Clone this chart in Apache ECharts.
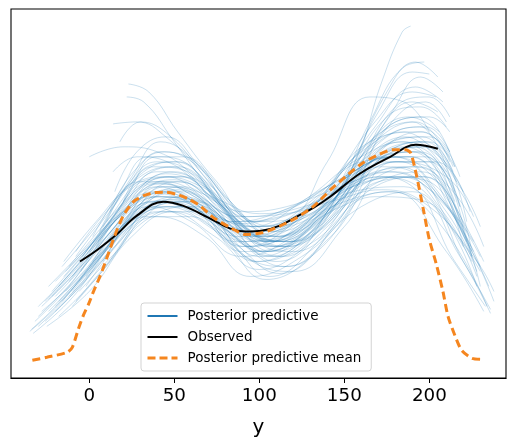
<!DOCTYPE html>
<html>
<head>
<meta charset="utf-8">
<title>ppc</title>
<script src="https://cdn.jsdelivr.net/npm/echarts@6/dist/echarts.min.js"></script>
<style>
	html, body { margin: 0; padding: 0; background: #fff; }
	#showView { width: 515px; height: 443px; }
</style>
</head>
<body>
<div id="showView"></div>
<script>
// tick labels on the x axis
var xTicks = [0, 50, 100, 150, 200];

// observed density
var obsX = [-5.5, 5, 16, 28, 43.5, 55, 70, 83, 92, 102, 112, 122, 132, 142, 159, 177, 192, 205];
var obsY = [1.00, 1.12, 1.27, 1.46, 1.60, 1.56, 1.44, 1.33, 1.30, 1.31, 1.36, 1.45, 1.54, 1.655, 1.88, 2.05, 2.17, 2.13];

// posterior predictive mean
var meanX = [-33.5, -25, -13, -10, -6.5, -3.5, -0.5, 2.5, 6.5, 10, 15, 20, 26, 32, 38, 45, 52, 58, 65, 73, 83, 92, 102, 112, 122, 132, 142, 152, 161, 170, 178, 186, 189, 192.5, 196.5, 200, 204, 208, 211, 215, 219, 225, 231];
var meanY = [0.01, 0.04, 0.09, 0.14, 0.32, 0.46, 0.57, 0.70, 0.86, 1.02, 1.26, 1.46, 1.60, 1.66, 1.69, 1.695, 1.67, 1.63, 1.56, 1.44, 1.34, 1.27, 1.29, 1.355, 1.44, 1.555, 1.72, 1.87, 1.99, 2.07, 2.12, 2.12, 2.09, 1.86, 1.52, 1.22, 0.98, 0.70, 0.45, 0.26, 0.11, 0.03, 0.02];

// posterior predictive draws, [y, density]
var ppLines = [
	[[-35,0.30],[-15,0.62],[10,1.15],[35,1.55],[60,1.40],[90,1.05],[120,1.25],[155,1.70],[185,1.75],[215,1.00],[233,0.55]],
	[[-30,0.45],[-10,0.80],[15,1.35],[40,1.75],[65,1.55],[92,1.15],[125,1.45],[160,2.00],[190,2.05],[220,1.15]],
	[[-28,0.55],[-5,0.95],[20,1.50],[45,1.85],[70,1.60],[95,1.25],[130,1.55],[165,2.20],[195,2.30],[212,2.05]],
	[[-25,0.35],[0,0.70],[25,1.25],[50,1.50],[75,1.30],[100,1.00],[135,1.30],[170,1.85],[200,1.65],[228,0.75]],
	[[-22,0.65],[0,1.05],[22,1.55],[42,1.78],[65,1.62],[88,1.38],[115,1.50],[150,1.85],[178,2.05],[205,1.70],[225,1.05]],
	[[-20,0.50],[5,0.95],[30,1.55],[55,1.75],[80,1.45],[105,1.20],[140,1.55],[175,2.45],[195,2.55],[210,2.35]],
	[[-18,0.75],[5,1.20],[28,1.60],[48,1.70],[70,1.50],[95,1.35],[125,1.60],[160,2.05],[185,2.20],[210,1.75]],
	[[-15,0.85],[8,1.30],[30,1.75],[50,1.90],[75,1.60],[100,1.30],[130,1.55],[165,2.00],[190,2.10],[218,1.40]],
	[[-12,0.95],[10,1.40],[32,1.85],[52,1.95],[78,1.55],[102,1.10],[135,1.35],[168,1.90],[195,1.95],[222,1.20]],
	[[-10,0.70],[12,1.15],[35,1.60],[58,1.62],[85,1.30],[108,1.15],[138,1.50],[170,2.30],[190,2.60],[205,2.50]],
	[[-8,1.05],[12,1.50],[32,1.90],[50,2.00],[72,1.75],[95,1.40],[122,1.50],[155,1.80],[180,1.90],[208,1.50],[228,0.85]],
	[[-5,0.90],[15,1.35],[38,1.78],[60,1.70],[85,1.25],[110,1.05],[140,1.40],[172,2.05],[198,2.05],[220,1.35]],
	[[0,1.10],[18,1.55],[38,1.95],[58,1.90],[82,1.45],[105,1.20],[135,1.50],[168,2.20],[192,2.40],[212,2.00]],
	[[5,1.20],[22,1.65],[40,2.05],[60,1.95],[85,1.40],[108,1.10],[140,1.50],[175,2.70],[192,3.00],[205,2.85]],
	[[10,1.40],[25,1.85],[42,2.20],[62,2.00],[88,1.40],[110,1.20],[140,1.55],[172,2.30],[195,2.45],[215,1.95]],
	[[15,1.70],[28,2.10],[45,2.25],[65,1.95],[90,1.45],[112,1.25],[142,1.60],[175,2.25],[198,2.35],[212,2.10]],
	[[18,2.20],[30,2.40],[48,2.25],[70,1.80],[95,1.30],[118,1.20],[145,1.55],[178,2.40],[198,2.60],[210,2.40]],
	[[22,2.65],[32,2.60],[50,2.20],[72,1.70],[98,1.25],[120,1.20],[150,1.70],[180,2.55],[200,2.65],[212,2.45]],
	[[23,2.78],[35,2.70],[52,2.30],[75,1.80],[98,1.40],[125,1.45],[155,1.90],[178,2.50],[195,2.85],[208,2.70]],
	[[-32,0.40],[-12,0.75],[10,1.25],[38,1.60],[62,1.50],[88,1.25],[118,1.35],[150,1.60],[178,1.70],[210,1.10],[232,0.50]],
	[[-26,0.60],[-5,1.00],[18,1.45],[42,1.65],[68,1.55],[95,1.30],[128,1.45],[162,1.80],[188,1.85],[215,1.30],[230,0.90]],
	[[-24,0.50],[-2,0.90],[22,1.40],[48,1.62],[75,1.38],[100,1.05],[132,1.35],[165,1.95],[192,2.15],[218,1.55]],
	[[-20,0.80],[0,1.15],[20,1.50],[40,1.68],[62,1.55],[90,1.15],[120,1.30],[158,1.90],[185,2.15],[210,1.90]],
	[[-16,0.60],[6,1.05],[28,1.50],[52,1.72],[78,1.50],[102,1.25],[132,1.55],[168,2.40],[190,2.70],[204,2.65]],
	[[-14,0.90],[5,1.25],[25,1.65],[45,1.88],[68,1.75],[92,1.45],[120,1.55],[150,1.85],[178,2.05],[205,1.80],[222,1.30]],
	[[-10,0.55],[10,0.95],[32,1.40],[58,1.55],[85,1.15],[106,0.85],[138,1.25],[170,1.80],[198,1.85],[225,1.05]],
	[[-6,1.00],[12,1.40],[34,1.80],[55,1.85],[80,1.55],[105,1.30],[135,1.65],[168,2.25],[190,2.40],[215,1.70]],
	[[-2,0.75],[18,1.20],[40,1.55],[62,1.55],[88,1.15],[112,0.88],[142,1.25],[175,1.85],[200,1.80],[230,0.75]],
	[[2,1.25],[18,1.70],[35,2.05],[55,2.05],[80,1.65],[102,1.35],[130,1.60],[160,2.10],[185,2.30],[210,1.95]],
	[[8,1.00],[25,1.45],[45,1.75],[68,1.60],[92,1.15],[115,0.95],[145,1.35],[178,2.10],[200,2.15],[222,1.40]],
	[[12,1.50],[26,1.90],[44,2.10],[64,1.95],[88,1.50],[110,1.30],[138,1.55],[170,2.05],[195,2.20],[218,1.55]],
	[[-30,0.35],[-8,0.72],[18,1.25],[45,1.55],[72,1.35],[98,1.00],[130,1.25],[165,1.75],[195,1.90],[225,1.10],[235,0.75]],
	[[-22,0.70],[-2,1.10],[18,1.55],[40,1.80],[62,1.65],[85,1.40],[112,1.45],[145,1.70],[172,1.85],[200,1.60],[225,1.00]],
	[[-18,0.45],[5,0.85],[30,1.40],[55,1.65],[82,1.40],[106,1.15],[138,1.45],[172,2.15],[196,2.25],[216,1.80]],
	[[-12,0.80],[8,1.20],[30,1.62],[52,1.80],[76,1.55],[100,1.20],[128,1.40],[160,1.95],[188,2.05],[215,1.45],[230,0.95]],
	[[-8,0.60],[14,1.05],[38,1.55],[62,1.60],[88,1.25],[110,1.00],[140,1.35],[175,2.00],[200,2.00],[225,1.10]],
	[[-4,1.05],[14,1.45],[34,1.82],[54,1.85],[78,1.50],[100,1.25],[128,1.50],[162,2.15],[188,2.45],[206,2.30]],
	[[4,1.15],[20,1.55],[40,1.90],[60,1.85],[84,1.45],[106,1.20],[134,1.50],[168,2.35],[192,2.75],[208,2.60]],
	[[14,1.90],[28,2.05],[46,2.00],[68,1.70],[94,1.30],[116,1.15],[146,1.50],[178,2.15],[200,2.20],[215,1.95]],
	[[-28,0.50],[-6,0.85],[16,1.30],[40,1.60],[66,1.45],[92,1.20],[122,1.40],[155,1.75],[182,1.95],[210,1.50],[228,0.90]],
	[[-20,0.65],[2,1.05],[24,1.48],[46,1.72],[72,1.48],[96,1.15],[126,1.40],[160,2.00],[186,2.25],[212,1.85]],
	[[-14,0.70],[8,1.10],[30,1.55],[54,1.70],[80,1.40],[104,1.10],[134,1.40],[166,2.00],[194,2.10],[220,1.40],[232,1.00]],
	[[0,0.95],[20,1.40],[42,1.75],[64,1.70],[90,1.35],[112,1.15],[142,1.50],[174,2.15],[196,2.30],[214,1.95]],
	[[6,1.30],[22,1.75],[40,2.00],[60,1.90],[86,1.50],[110,1.35],[138,1.65],[170,2.20],[194,2.35],[212,2.10]],
	[[-34,0.32],[-14,0.65],[8,1.10],[34,1.45],[60,1.45],[86,1.20],[114,1.25],[148,1.55],[176,1.70],[205,1.40],[234,0.55]],
	[[-24,0.75],[-4,1.10],[16,1.45],[38,1.70],[60,1.62],[84,1.40],[112,1.50],[146,1.80],[172,1.95],[198,1.80],[224,1.15]],
	[[-10,0.85],[10,1.30],[30,1.70],[50,1.82],[74,1.60],[98,1.35],[126,1.50],[158,1.85],[182,2.00],[208,1.60],[226,1.10]],
	[[10,1.05],[30,1.50],[52,1.65],[78,1.35],[102,1.10],[130,1.35],[155,1.95],[172,2.80],[184,3.30],[189,3.36]],
	[[-6,0.80],[16,1.25],[40,1.65],[64,1.55],[90,1.20],[114,1.05],[140,1.50],[165,2.40],[185,2.95],[197,3.00]],
	[[2,1.00],[22,1.45],[44,1.80],[66,1.65],[92,1.25],[116,1.15],[142,1.55],[170,2.50],[190,2.90],[200,2.88]],
	[[0,2.05],[20,2.15],[40,2.10],[62,1.85],[88,1.40],[110,1.20],[140,1.50],[170,2.00],[192,2.10],[215,1.60]],
	[[14,2.38],[28,2.40],[45,2.25],[68,1.85],[92,1.35],[116,1.20],[146,1.55],[176,2.10],[198,2.20],[214,1.90]],
	[[-16,0.95],[4,1.35],[26,1.80],[48,1.95],[72,1.65],[96,1.35],[118,1.42],[140,2.00],[165,2.65],[185,2.60],[200,2.30]],
	[[-26,0.40],[-4,0.78],[20,1.30],[46,1.50],[74,1.25],[100,0.92],[132,1.20],[168,1.65],[198,1.60],[220,1.00],[236,0.52]],
	[[-33,0.28],[-12,0.60],[12,1.10],[40,1.45],[68,1.25],[95,0.85],[125,1.05],[160,1.55],[190,1.70],[218,1.05],[236,0.48]],
	[[-20,0.55],[2,0.95],[26,1.45],[52,1.60],[80,1.20],[104,0.82],[134,1.10],[168,1.75],[196,1.85],[222,1.20],[238,0.60]],
	[[-15,1.00],[4,1.40],[24,1.75],[44,1.85],[66,1.75],[90,1.50],[116,1.55],[148,1.75],[175,1.90],[202,1.70],[226,1.20]],
	[[-8,1.10],[10,1.50],[30,1.80],[52,1.80],[76,1.62],[100,1.48],[126,1.55],[155,1.75],[182,1.85],[210,1.55],[230,1.05]],
	[[-30,0.55],[-10,0.90],[12,1.35],[36,1.65],[62,1.62],[88,1.45],[116,1.48],[146,1.62],[172,1.72],[200,1.55],[228,1.00],[238,0.70]],
	[[-2,0.85],[20,1.30],[44,1.60],[70,1.45],[96,1.00],[120,0.90],[150,1.35],[180,2.00],[204,2.00],[224,1.50]],
	[[20,1.60],[34,1.95],[52,2.00],[74,1.65],[98,1.20],[120,1.10],[150,1.55],[180,2.40],[200,2.45],[212,2.30]],
	[[-24,0.62],[-4,1.00],[18,1.45],[42,1.70],[66,1.50],[90,1.10],[118,1.20],[150,1.65],[180,2.00],[210,1.85],[226,1.45]],
	[[-12,0.65],[10,1.05],[34,1.50],[58,1.60],[84,1.35],[108,1.25],[134,1.45],[164,1.80],[190,1.95],[214,1.70],[232,1.15]],
	[[8,1.35],[24,1.80],[42,2.10],[62,2.00],[86,1.55],[108,1.25],[134,1.45],[160,1.95],[184,2.20],[206,2.05],[220,1.70]],
	[[-18,0.60],[4,1.00],[28,1.45],[54,1.55],[82,1.30],[106,1.05],[136,1.40],[170,2.05],[196,2.15],[218,1.75],[230,1.35]],
	[[-6,0.70],[16,1.10],[40,1.50],[66,1.50],[92,1.05],[116,0.95],[146,1.40],[178,2.20],[200,2.25],[218,1.85]]
];

function zip(xs, ys){
	var out = [];
	for(var i = 0 ; i < xs.length; i++){
		out.push([xs[i], ys[i]]);
	}
	return out;
}

function showMessage(){
	var myChart = echarts.init(document.getElementById('showView'), null, {renderer: 'canvas'});
	var series = [];
	for(var i = 0 ; i < ppLines.length; i++){
		series.push({
			name: 'Posterior predictive',
			type: 'line',
			data: ppLines[i],
			smooth: 0.45,
			symbol: 'none',
			silent: true,
			z: 1,
			itemStyle: {color: '#1f77b4'},
			lineStyle: {color: '#1f77b4', width: 0.9, opacity: 0.26}
		});
	}
	series.push({
		name: 'Observed',
		type: 'line',
		data: zip(obsX, obsY),
		smooth: 0.4,
		symbol: 'none',
		z: 3,
		itemStyle: {color: '#000'},
		lineStyle: {color: '#000', width: 2}
	});
	series.push({
		name: 'Posterior predictive mean',
		type: 'line',
		data: zip(meanX, meanY),
		smooth: 0.25,
		symbol: 'none',
		z: 4,
		itemStyle: {color: '#f5861f'},
		lineStyle: {color: '#f5861f', width: 3, type: [8, 4.5]}
	});

	var option = {
		animation: false,
		backgroundColor: '#fff',
		textStyle: {fontFamily: 'DejaVu Sans'},
		grid: {left: 11, right: 9, top: 9, bottom: 64, show: true, borderColor: '#000', borderWidth: 1.1, containLabel: false},
		legend: {
			orient: 'vertical',
			left: 141,
			top: 303,
			padding: [6, 10, 6, 5],
			itemWidth: 30,
			itemHeight: 14,
			itemGap: 7,
			borderColor: '#d3d3d3',
			borderWidth: 1,
			borderRadius: 3,
			backgroundColor: 'rgba(255,255,255,0.8)',
			selectedMode: false,
			itemStyle: {opacity: 0},
			textStyle: {fontFamily: 'DejaVu Sans', fontSize: 13.5, color: '#000', padding: [0, 0, 0, 5]},
			data: [
				{name: 'Posterior predictive', itemStyle: {opacity: 0}, lineStyle: {color: '#1f77b4', width: 2, opacity: 1}},
				{name: 'Observed', itemStyle: {opacity: 0}, lineStyle: {color: '#000', width: 2, opacity: 1}},
				{name: 'Posterior predictive mean', itemStyle: {opacity: 0}, lineStyle: {color: '#f5861f', width: 3, type: [8, 4], opacity: 1}}
			]
		},
		xAxis: {
			type: 'value',
			min: -46.06,
			max: 245.1,
			name: 'y',
			nameLocation: 'middle',
			nameGap: 40,
			nameTextStyle: {fontFamily: 'DejaVu Sans', fontSize: 20, color: '#000'},
			splitLine: {show: false},
			axisLine: {show: true, onZero: false, lineStyle: {color: '#000', width: 1.1}},
			axisTick: {show: true, length: 5, customValues: xTicks, lineStyle: {color: '#000', width: 1}},
			axisLabel: {customValues: xTicks, fontFamily: 'DejaVu Sans', fontSize: 18.3, color: '#000', margin: 9}
		},
		yAxis: {
			type: 'value',
			min: -0.168,
			max: 3.532,
			show: false,
			splitLine: {show: false}
		},
		series: series
	};
	myChart.setOption(option);
}

showMessage();
</script>
</body>
</html>
